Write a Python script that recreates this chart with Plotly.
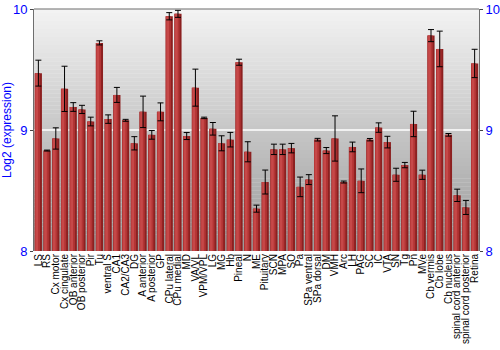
import plotly.graph_objects as go

regions = ["LS", "RS", "Cx motor", "Cx cingulate", "OB anterior", "OB posterior", "Pir", "Tu",
           "ventral S", "CA1", "CA2/CA3", "DG", "A anterior", "A posterior", "GP", "CPu lateral",
           "CPu medial", "MD", "VA/VL", "VPM/VPL", "LG", "MG", "Hb", "Pineal", "N", "ME",
           "Pituitary", "SCN", "MPA", "SO", "Pa", "SPa ventral", "SPa dorsal", "DM", "VMH", "Arc",
           "LH", "PAG", "SC", "IC", "VTA", "SN", "Tg", "Pn", "MVe", "Cb vermis", "Cb lobe",
           "Cb nucleus", "spinal cord anterior", "spinal cord posterior", "Retina"]

expression = [9.47, 8.83, 8.93, 9.34, 9.19, 9.17, 9.07, 9.72, 9.09, 9.29, 9.08, 8.89, 9.15, 8.96,
              9.15, 9.94, 9.96, 8.95, 9.35, 9.10, 9.01, 8.89, 8.92, 9.56, 8.82, 8.35, 8.57, 8.84,
              8.84, 8.85, 8.53, 8.59, 8.92, 8.83, 8.93, 8.57, 8.86, 8.58, 8.92, 9.02, 8.90, 8.63,
              8.71, 9.05, 8.63, 9.78, 9.67, 8.96, 8.46, 8.36, 9.55]

errors = [0.107, 0.004, 0.088, 0.187, 0.036, 0.034, 0.036, 0.017, 0.035, 0.062, 0.008, 0.055,
          0.13, 0.036, 0.074, 0.03, 0.029, 0.029, 0.153, 0.006, 0.052, 0.062, 0.06, 0.025, 0.083,
          0.029, 0.099, 0.043, 0.043, 0.039, 0.081, 0.041, 0.011, 0.025, 0.187, 0.008, 0.04,
          0.098, 0.01, 0.039, 0.048, 0.054, 0.022, 0.105, 0.038, 0.05, 0.147, 0.011, 0.051,
          0.058, 0.117]

y_ticks = [8, 9, 10]

fig = go.Figure()

heights = [v - 8 for v in expression]
# dark base bar
fig.add_trace(go.Bar(x=regions, y=heights, base=8, width=0.82,
                     marker=dict(color="#8c2020", line=dict(width=0)), hoverinfo="skip",
                     showlegend=False))
# mid tone
fig.add_trace(go.Bar(x=regions, y=heights, base=8, width=0.6, offset=-0.41,
                     marker=dict(color="#b23434", line=dict(width=0)), hoverinfo="skip",
                     showlegend=False))
# highlight
fig.add_trace(go.Bar(x=regions, y=heights, base=8, width=0.3, offset=-0.33,
                     marker=dict(color="#c64848", line=dict(width=0)), hoverinfo="skip",
                     showlegend=False))
# error bars
fig.add_trace(go.Scatter(x=regions, y=expression, mode="markers",
                         marker=dict(size=1, color="rgba(0,0,0,0)"),
                         error_y=dict(type="data", array=errors, color="black", thickness=1,
                                      width=3),
                         showlegend=False))

# gradient background
n = 60
shapes = []
for i in range(n):
    t = i / (n - 1)
    c = int(243 - (243 - 155) * t)
    shapes.append(dict(type="rect", xref="paper", yref="paper", x0=0, x1=1,
                       y0=1 - (i + 1) / n, y1=1 - i / n + 0.001, layer="below",
                       line=dict(width=0), fillcolor=f"rgb({c},{c},{c})"))
shapes.append(dict(type="line", xref="paper", yref="paper", x0=0, x1=1, y0=1, y1=1,
                   line=dict(color="#6e6e6e", width=1)))
shapes.append(dict(type="line", xref="paper", yref="y", x0=0, x1=1, y0=9, y1=9,
                   layer="below", line=dict(color="white", width=1.5)))

fig.update_layout(
    width=500, height=350,
    margin=dict(l=34, r=21, t=9, b=99),
    paper_bgcolor="white", plot_bgcolor="rgba(0,0,0,0)",
    barmode="overlay", bargap=0.1,
    shapes=shapes,
    font=dict(family="Liberation Sans, Arial, sans-serif"),
    xaxis=dict(tickangle=-90, tickfont=dict(size=10, color="black"), showgrid=False,
               tickmode="array", tickvals=regions, ticktext=regions,
               ticks="", showline=False, range=[-0.5, len(regions) - 0.5], automargin=False),
    yaxis=dict(range=[8, 10], tickvals=y_ticks, ticktext=[str(v) for v in y_ticks],
               tickfont=dict(size=13, color="blue"), showgrid=False, zeroline=False,
               ticks="outside", ticklen=3, tickcolor="#444", showline=True,
               linecolor="#6e6e6e", linewidth=1, automargin=False,
               title=dict(text="Log2 (expression)", font=dict(size=12, color="blue"),
                          standoff=4)),
    yaxis2=dict(range=[8, 10], tickvals=y_ticks, ticktext=[str(v) for v in y_ticks],
                overlaying="y", side="right", matches="y", automargin=False,
                tickfont=dict(size=13, color="blue"), showgrid=False, zeroline=False,
                ticks="outside", ticklen=3, tickcolor="#444", showline=True,
                linecolor="#6e6e6e", linewidth=1),
)
fig.add_trace(go.Scatter(x=[regions[0]], y=[8], yaxis="y2", mode="markers",
                         marker=dict(size=1, color="rgba(0,0,0,0)"), hoverinfo="skip",
                         showlegend=False))

fig.write_html("out.html")
